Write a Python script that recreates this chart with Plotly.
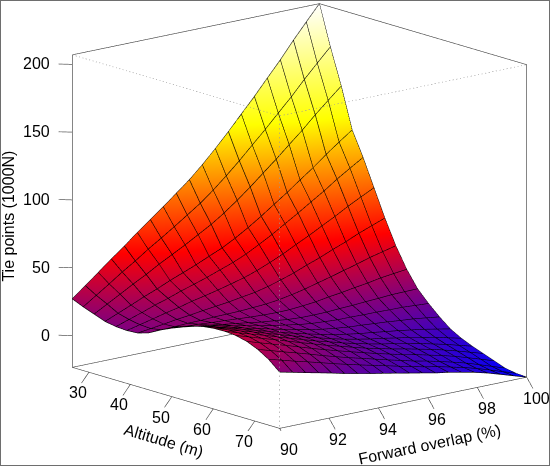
import numpy as np
import plotly.graph_objects as go

# ---------------- data ----------------
altitude = [26.00, 28.63, 31.26, 33.89, 36.53, 39.16, 41.79, 44.42, 47.05, 49.68,
            52.32, 54.95, 57.58, 60.21, 62.84, 65.47, 68.11, 70.74, 73.37, 76.00]
overlap = [90.00, 90.53, 91.05, 91.58, 92.11, 92.63, 93.16, 93.68, 94.21, 94.74,
           95.26, 95.79, 96.32, 96.84, 97.37, 97.89, 98.42, 98.95, 99.47, 100.00]
# one row per altitude, values along forward overlap (90 -> 100)
tie_points = [
    [27.0, 34.8, 42.5, 50.5, 58.0, 66.0, 73.5, 81.0, 89.0, 97.0, 106.0, 116.0, 126.5, 137.5, 148.5, 160.0, 171.5, 184.0, 195.5, 207.0],
    [23.5, 30.0, 36.4, 43.2, 49.4, 56.1, 62.3, 68.6, 75.3, 82.0, 89.7, 98.3, 107.4, 117.0, 126.6, 136.6, 146.6, 157.5, 167.5, 177.5],
    [20.5, 25.9, 31.2, 36.7, 41.8, 47.4, 52.5, 57.6, 63.2, 68.8, 75.2, 82.6, 90.4, 98.7, 107.0, 115.7, 124.3, 133.8, 142.4, 151.0],
    [17.5, 21.5, 25.5, 29.7, 33.5, 37.7, 41.5, 45.3, 49.6, 53.8, 58.9, 64.8, 71.2, 78.0, 84.8, 92.0, 99.1, 106.9, 114.0, 121.0],
    [16.0, 19.3, 22.4, 25.9, 28.9, 32.3, 35.3, 38.4, 41.9, 45.4, 49.6, 54.7, 60.1, 66.0, 71.9, 78.1, 84.2, 91.0, 97.0, 103.0],
    [15.5, 17.8, 20.1, 22.5, 24.6, 27.1, 29.2, 31.4, 33.9, 36.5, 39.8, 43.8, 48.1, 53.0, 57.7, 62.8, 67.8, 73.3, 78.2, 83.0],
    [16.0, 17.3, 18.6, 20.1, 21.2, 22.6, 23.8, 25.0, 26.6, 28.1, 30.4, 33.3, 36.5, 40.3, 43.8, 47.8, 51.5, 55.8, 59.4, 63.0],
    [18.5, 18.8, 19.1, 19.6, 19.7, 20.2, 20.4, 20.6, 21.2, 21.8, 23.0, 24.8, 26.9, 29.5, 32.0, 34.7, 37.3, 40.3, 42.6, 45.0],
    [23.0, 22.4, 21.7, 21.3, 20.5, 20.0, 19.3, 18.6, 18.2, 17.9, 18.1, 18.9, 19.9, 21.5, 22.8, 24.4, 25.8, 27.6, 28.8, 30.0],
    [27.0, 25.6, 24.2, 23.0, 21.5, 20.2, 18.8, 17.3, 16.3, 15.2, 14.6, 14.5, 14.7, 15.3, 15.7, 16.4, 16.9, 17.6, 17.8, 18.0],
    [30.5, 28.6, 26.6, 24.9, 22.8, 21.0, 19.0, 17.1, 15.5, 13.8, 12.7, 12.0, 11.4, 11.4, 11.1, 11.1, 10.8, 10.7, 10.1, 9.5],
    [33.0, 30.7, 28.3, 26.1, 23.6, 21.3, 18.9, 16.6, 14.5, 12.5, 10.8, 9.5, 8.4, 7.8, 7.0, 6.3, 5.3, 4.5, 3.3, 2.0],
    [35.0, 32.3, 29.6, 27.0, 24.2, 21.5, 18.8, 16.1, 13.7, 11.3, 9.2, 7.5, 5.9, 4.8, 3.4, 2.2, 0.7, -0.8, -2.6, -4.5],
    [36.0, 33.1, 30.2, 27.4, 24.4, 21.5, 18.6, 15.7, 13.2, 10.5, 8.2, 6.2, 4.3, 2.9, 1.1, -0.5, -2.5, -4.4, -6.7, -9.0],
    [36.2, 33.2, 30.2, 27.3, 24.2, 21.1, 18.2, 15.2, 12.6, 9.8, 7.3, 5.1, 3.0, 1.3, -0.7, -2.6, -4.9, -7.2, -9.9, -12.5],
    [35.5, 32.5, 29.4, 26.5, 23.3, 20.3, 17.3, 14.3, 11.7, 8.9, 6.3, 4.0, 1.7, -0.2, -2.4, -4.5, -7.0, -9.7, -12.6, -15.5],
    [33.5, 30.5, 27.5, 24.6, 21.5, 18.4, 15.5, 12.7, 10.0, 7.3, 4.7, 2.3, -0.1, -2.1, -4.4, -6.7, -9.3, -12.3, -15.4, -18.5],
    [30.0, 27.1, 24.2, 21.4, 18.5, 15.5, 12.7, 10.0, 7.5, 4.9, 2.4, 0.0, -2.5, -4.4, -6.8, -9.2, -11.9, -15.0, -18.3, -21.5],
    [25.0, 22.4, 19.7, 17.2, 14.6, 11.9, 9.4, 7.0, 4.7, 2.4, 0.1, -2.2, -4.4, -6.2, -8.5, -10.8, -13.5, -16.6, -19.8, -23.0],
    [18.0, 15.8, 13.6, 11.5, 9.3, 7.0, 5.0, 3.0, 1.2, -0.7, -2.6, -4.5, -6.5, -8.0, -10.0, -12.0, -14.5, -17.5, -20.5, -23.5],
]
alt_ticks = [30, 40, 50, 60, 70]
ov_ticks = [90, 92, 94, 96, 98, 100]
z_ticks = [0, 50, 100, 150, 200]
x_title = "Altitude (m)"
y_title = "Forward overlap (%)"
z_title = "Tie points (1000N)"

# ---------------- derived ----------------
Z = np.array(tie_points).T          # rows = overlap, columns = altitude
amin, amax = min(altitude), max(altitude)
omin, omax = min(overlap), max(overlap)
zmin, zmax = float(Z.min()), float(Z.max())
Ra, Ro, Rz = amax - amin, omax - omin, zmax - zmin

FONT = dict(family="Liberation Sans, Arial, sans-serif", size=16, color="black")
EDGE = "#3c3c3c"

colorscale = [[0.0, "#0000FF"], [1 / 3, "#FF0000"], [2 / 3, "#FFFF00"], [1.0, "#FFFFFF"]]

surface = go.Surface(
    x=altitude, y=overlap, z=Z,
    colorscale=colorscale, cmin=zmin, cmax=zmax, showscale=False,
    lighting=dict(ambient=1.0, diffuse=0.0, specular=0.0, roughness=1.0, fresnel=0.0),
    contours=dict(
        x=dict(show=True, start=amin, end=amax + 1e-6, size=Ra / (len(altitude) - 1),
               color="black", width=2, highlight=False),
        y=dict(show=True, start=omin, end=omax + 1e-6, size=Ro / (len(overlap) - 1),
               color="black", width=2, highlight=False),
        z=dict(show=False, highlight=False),
    ),
    hoverinfo="skip",
)

# facet borders drawn along the grid rows / columns of the surface
gx, gy, gz = [], [], []
for i, a in enumerate(altitude):
    for j, o in enumerate(overlap):
        gx.append(a); gy.append(o); gz.append(tie_points[i][j])
    gx.append(None); gy.append(None); gz.append(None)
for j, o in enumerate(overlap):
    for i, a in enumerate(altitude):
        gx.append(a); gy.append(o); gz.append(tie_points[i][j])
    gx.append(None); gy.append(None); gz.append(None)
grid = go.Scatter3d(x=gx, y=gy, z=gz, mode="lines", line=dict(color="black", width=1.3),
                    hoverinfo="skip", showlegend=False)


def polyline(paths):
    xs, ys, zs = [], [], []
    for p in paths:
        for (a, b, c) in p:
            xs.append(a); ys.append(b); zs.append(c)
        xs.append(None); ys.append(None); zs.append(None)
    return xs, ys, zs


solid_paths = [
    [(amin, omin, zmax), (amin, omax, zmax), (amax, omax, zmax)],
    [(amin, omax, zmin), (amin, omax, zmax)],
    [(amin, omin, zmin), (amin, omax, zmin), (amax, omax, zmin)],
    [(amin, omin, zmin), (amin, omin, zmax)],
    [(amax, omax, zmin), (amax, omax, zmax)],
    [(amin, omin, zmin), (amax, omin, zmin), (amax, omax, zmin)],
]
dotted_paths = [
    [(amin, omin, zmax), (amax, omin, zmax), (amax, omax, zmax)],
    [(amax, omin, zmin), (amax, omin, zmax)],
]

TL = 0.03
tick_paths = []
for a in alt_ticks:
    tick_paths.append([(a, omin, zmin), (a, omin - TL * Ro, zmin - TL * Rz)])
for o in ov_ticks:
    tick_paths.append([(amax, o, zmin), (amax + TL * Ra, o, zmin - TL * Rz)])
for zt in z_ticks:
    tick_paths.append([(amin, omin, zt), (amin - TL * Ra, omin - TL * Ro, zt)])

traces = [surface, grid]
for paths, dash, col in [(solid_paths, "solid", EDGE), (tick_paths, "solid", EDGE),
                         (dotted_paths, "dot", "#9a9a9a")]:
    xs, ys, zs = polyline(paths)
    traces.append(go.Scatter3d(x=xs, y=ys, z=zs, mode="lines",
                               line=dict(color=col, width=1.2, dash=dash),
                               hoverinfo="skip", showlegend=False))

ann = []
for a in alt_ticks:
    ann.append(dict(x=a, y=omin - 0.045 * Ro, z=zmin - 0.058 * Rz, text=str(a)))
for o in ov_ticks:
    ann.append(dict(x=amax + 0.045 * Ra, y=o, z=zmin - 0.06 * Rz, text=str(o)))
for zt in z_ticks:
    ann.append(dict(x=amin - 0.045 * Ra, y=omin - 0.045 * Ro, z=zt, text=str(zt), xanchor="right"))
ann.append(dict(x=(amin + amax) / 2, y=omin - 0.05 * Ro, z=zmin - 0.128 * Rz,
                text=x_title, textangle=16.6))
ann.append(dict(x=amax + 0.125 * Ra, y=(omin + omax) / 2, z=zmin - 0.108 * Rz,
                text=y_title, textangle=-11.7))
ann.append(dict(x=amin - 0.14 * Ra, y=omin - 0.14 * Ro, z=zmin + 0.48 * Rz,
                text=z_title, textangle=-90))
for d in ann:
    d.setdefault("xanchor", "center")
    d.update(showarrow=False, font=FONT, yanchor="middle")

PAD = 0.2
axis_common = dict(showbackground=False, showgrid=False, zeroline=False, showline=False,
                   showticklabels=False, ticks="", title=dict(text=""), showspikes=False,
                   autorange=False)

phi = np.radians(14.3)
az = np.radians(-40.0)
K = 3.0
SCALE = 2.10
eye = dict(x=K * np.cos(phi) * np.cos(az), y=K * np.cos(phi) * np.sin(az), z=K * np.sin(phi))

fig = go.Figure(traces)
fig.update_layout(
    width=550, height=466,
    margin=dict(l=0, r=0, t=0, b=0),
    paper_bgcolor="white",
    showlegend=False,
    hovermode=False,
    scene=dict(
        domain=dict(x=[0.089, 1.0], y=[0.0752, 0.9979]),
        xaxis=dict(range=[amin - PAD * Ra, amax + PAD * Ra], **axis_common),
        yaxis=dict(range=[omin - PAD * Ro, omax + PAD * Ro], **axis_common),
        zaxis=dict(range=[zmin - PAD * Rz, zmax + PAD * Rz], **axis_common),
        aspectmode="manual",
        aspectratio=dict(x=SCALE, y=SCALE, z=SCALE),
        camera=dict(eye=eye, up=dict(x=0, y=0, z=1), center=dict(x=0, y=0, z=0),
                    projection=dict(type="orthographic")),
        annotations=ann,
        dragmode=False,
    ),
    shapes=[dict(type="rect", xref="paper", yref="paper", x0=0, y0=0, x1=1, y1=1,
                 line=dict(color="#6e6e6e", width=2))],
)
fig.write_html("out.html", config={"displayModeBar": False},
               post_script="document.body.style.margin='0';")
